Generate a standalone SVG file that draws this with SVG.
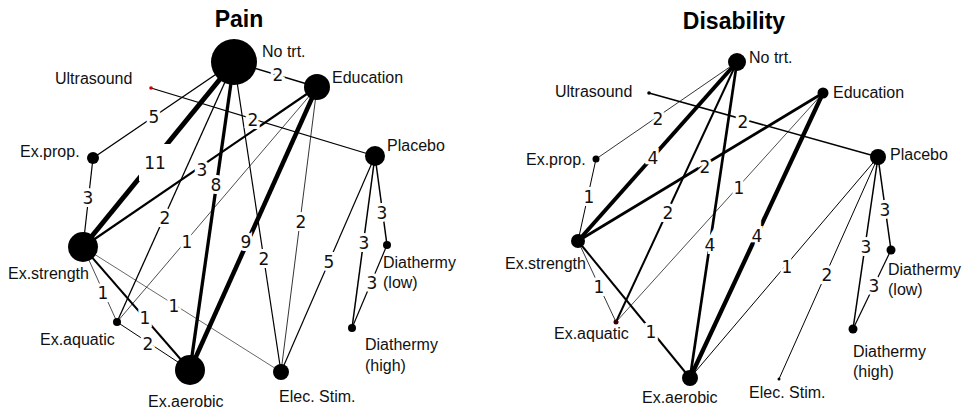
<svg xmlns="http://www.w3.org/2000/svg" width="965" height="411" viewBox="0 0 965 411">
<style>
.e line{stroke:#000;stroke-linecap:butt}
.n{font-family:"Liberation Sans",Arial,sans-serif;font-size:16px;fill:#111}
.t{font-family:"Liberation Sans",Arial,sans-serif;font-size:23px;font-weight:bold;fill:#000;text-anchor:middle}
.l{font-family:"DejaVu Sans","Liberation Sans",sans-serif;font-size:17px;fill:#111;text-anchor:middle;stroke:#fff;stroke-width:6;paint-order:stroke;stroke-linejoin:miter}
circle{fill:#000}
</style>
<rect width="965" height="411" fill="#fff"/>
<text class="t" x="239" y="27">Pain</text>
<text class="t" x="734" y="29">Disability</text>

<g id="connectors-pain" class="e">
<line x1="234" y1="62" x2="93" y2="158" stroke-width="1.3"/>
<line x1="234" y1="62" x2="83" y2="247" stroke-width="5"/>
<line x1="234" y1="62" x2="317" y2="87" stroke-width="1.5"/>
<line x1="234" y1="62" x2="117" y2="322" stroke-width="1.3"/>
<line x1="234" y1="62" x2="190" y2="370" stroke-width="3.3"/>
<line x1="234" y1="62" x2="281" y2="372" stroke-width="1.2"/>
<line x1="151" y1="88" x2="375" y2="156" stroke-width="1.2"/>
<line x1="317" y1="87" x2="83" y2="247" stroke-width="2.2"/>
<line x1="317" y1="87" x2="117" y2="322" stroke-width="0.7"/>
<line x1="317" y1="87" x2="190" y2="370" stroke-width="4.5"/>
<line x1="317" y1="87" x2="281" y2="372" stroke-width="0.8"/>
<line x1="375" y1="156" x2="281" y2="372" stroke-width="1.2"/>
<line x1="375" y1="156" x2="387" y2="245" stroke-width="1.5"/>
<line x1="375" y1="156" x2="352" y2="328" stroke-width="1.5"/>
<line x1="387" y1="245" x2="352" y2="328" stroke-width="1.2"/>
<line x1="93" y1="158" x2="83" y2="247" stroke-width="1.2"/>
<line x1="83" y1="247" x2="117" y2="322" stroke-width="0.7"/>
<line x1="83" y1="247" x2="190" y2="370" stroke-width="2"/>
<line x1="83" y1="247" x2="281" y2="372" stroke-width="0.6"/>
<line x1="117" y1="322" x2="190" y2="370" stroke-width="1"/>
</g>
<g id="labels-pain">
<text class="l" x="154" y="123">5</text>
<rect x="139" y="144" width="32" height="37" fill="#fff"/>
<text class="l" x="155" y="169">11</text>
<text class="l" x="278" y="81">2</text>
<text class="l" x="165" y="224">2</text>
<text class="l" x="216" y="191">8</text>
<text class="l" x="264" y="265">2</text>
<text class="l" x="253" y="126">2</text>
<text class="l" x="202" y="176">3</text>
<text class="l" x="187" y="248">1</text>
<text class="l" x="246" y="248">9</text>
<text class="l" x="301" y="228">2</text>
<text class="l" x="329" y="268">5</text>
<text class="l" x="382" y="219">3</text>
<text class="l" x="364" y="249">3</text>
<text class="l" x="372" y="289">3</text>
<text class="l" x="88" y="204">3</text>
<text class="l" x="103" y="299">1</text>
<text class="l" x="145" y="324">1</text>
<text class="l" x="174" y="312">1</text>
<text class="l" x="148" y="350">2</text>
</g>

<g id="pain-notrt"><circle cx="234" cy="62" r="23"/><text class="n" x="262" y="57">No trt.</text></g>
<g id="pain-education"><circle cx="317" cy="87" r="13"/><text class="n" x="332" y="83">Education</text></g>
<g id="pain-placebo"><circle cx="375" cy="156" r="10"/><text class="n" x="387" y="151">Placebo</text></g>
<g id="pain-ultrasound"><circle cx="151" cy="88" r="1.8" style="fill:#d00000"/><text class="n" x="55" y="84">Ultrasound</text></g>
<g id="pain-exprop"><circle cx="93" cy="158" r="6"/><text class="n" x="20" y="157">Ex.prop.</text></g>
<g id="pain-exstrength"><circle cx="83" cy="247" r="15"/><text class="n" x="8" y="279">Ex.strength</text></g>
<g id="pain-exaquatic"><circle cx="117" cy="322" r="4"/><text class="n" x="40" y="345">Ex.aquatic</text></g>
<g id="pain-exaerobic"><circle cx="190" cy="370" r="15"/><text class="n" x="148" y="407">Ex.aerobic</text></g>
<g id="pain-elecstim"><circle cx="281" cy="372" r="8"/><text class="n" x="279" y="402">Elec. Stim.</text></g>
<g id="pain-diathlow"><circle cx="387" cy="245" r="4"/><text class="n" x="383" y="268">Diathermy</text><text class="n" x="383" y="288">(low)</text></g>
<g id="pain-diathhigh"><circle cx="352" cy="328" r="4"/><text class="n" x="365" y="350">Diathermy</text><text class="n" x="365" y="371">(high)</text></g>

<g id="connectors-disability" class="e">
<line x1="737" y1="62" x2="596" y2="159" stroke-width="0.8"/>
<line x1="737" y1="62" x2="578" y2="241" stroke-width="4"/>
<line x1="737" y1="62" x2="616" y2="322" stroke-width="2"/>
<line x1="737" y1="62" x2="690" y2="378" stroke-width="2.7"/>
<line x1="649" y1="93" x2="878" y2="157" stroke-width="1.5"/>
<line x1="823" y1="93" x2="578" y2="241" stroke-width="2.7"/>
<line x1="823" y1="93" x2="616" y2="322" stroke-width="0.7"/>
<line x1="823" y1="93" x2="690" y2="378" stroke-width="4.3"/>
<line x1="878" y1="157" x2="690" y2="378" stroke-width="1"/>
<line x1="878" y1="157" x2="779" y2="379" stroke-width="1"/>
<line x1="878" y1="157" x2="891" y2="250" stroke-width="1.5"/>
<line x1="878" y1="157" x2="853" y2="329" stroke-width="1.5"/>
<line x1="891" y1="250" x2="853" y2="329" stroke-width="1.2"/>
<line x1="596" y1="159" x2="578" y2="241" stroke-width="1"/>
<line x1="578" y1="241" x2="616" y2="322" stroke-width="0.8"/>
<line x1="578" y1="241" x2="690" y2="378" stroke-width="2"/>
</g>
<g id="labels-disability">
<text class="l" x="658" y="125">2</text>
<text class="l" x="653" y="164">4</text>
<text class="l" x="668" y="219">2</text>
<text class="l" x="710" y="251">4</text>
<text class="l" x="743" y="128">2</text>
<text class="l" x="705" y="173">2</text>
<text class="l" x="739" y="194">1</text>
<text class="l" x="757" y="242">4</text>
<text class="l" x="787" y="273">1</text>
<text class="l" x="827" y="281">2</text>
<text class="l" x="885" y="216">3</text>
<text class="l" x="866" y="253">3</text>
<text class="l" x="874" y="292">3</text>
<text class="l" x="589" y="203">1</text>
<text class="l" x="599" y="293">1</text>
<text class="l" x="651" y="338">1</text>
</g>

<g id="dis-notrt"><circle cx="737" cy="62" r="9"/><text class="n" x="749" y="63">No trt.</text></g>
<g id="dis-education"><circle cx="823" cy="93" r="5.5"/><text class="n" x="833" y="98">Education</text></g>
<g id="dis-placebo"><circle cx="878" cy="157" r="8"/><text class="n" x="890" y="160">Placebo</text></g>
<g id="dis-ultrasound"><circle cx="649" cy="93" r="1.8"/><text class="n" x="555" y="97">Ultrasound</text></g>
<g id="dis-exprop"><circle cx="596" cy="159" r="3.5"/><text class="n" x="526" y="165">Ex.prop.</text></g>
<g id="dis-exstrength"><circle cx="578" cy="241" r="7"/><text class="n" x="505" y="269">Ex.strength</text></g>
<g id="dis-exaquatic"><circle cx="616" cy="322" r="2.5" style="fill:#300"/><text class="n" x="554" y="339">Ex.aquatic</text></g>
<g id="dis-exaerobic"><circle cx="690" cy="378" r="8"/><text class="n" x="642" y="403">Ex.aerobic</text></g>
<g id="dis-elecstim"><circle cx="779" cy="379" r="1.5"/><text class="n" x="749" y="398">Elec. Stim.</text></g>
<g id="dis-diathlow"><circle cx="891" cy="250" r="4.5"/><text class="n" x="888" y="275">Diathermy</text><text class="n" x="888" y="295">(low)</text></g>
<g id="dis-diathhigh"><circle cx="853" cy="329" r="4.5"/><text class="n" x="853" y="357">Diathermy</text><text class="n" x="853" y="377">(high)</text></g>
</svg>
